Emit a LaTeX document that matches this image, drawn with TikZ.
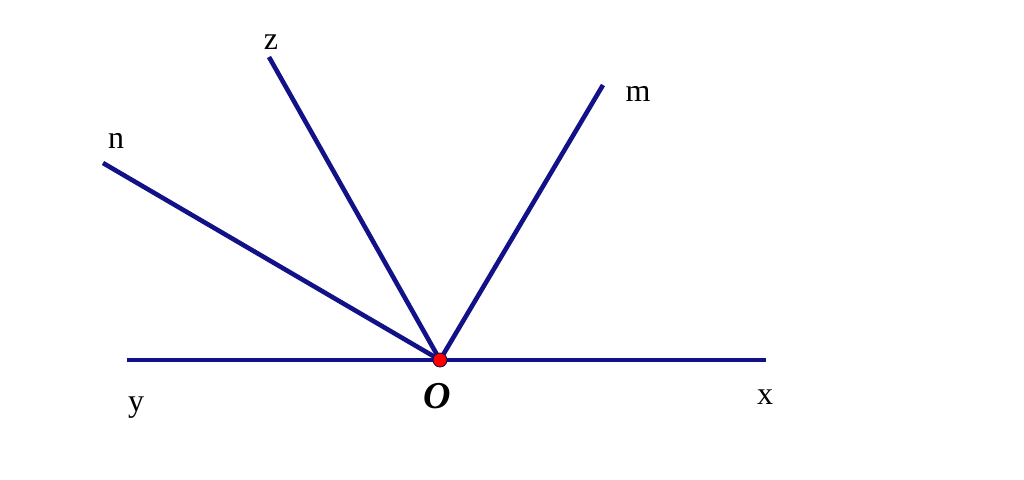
\documentclass[tikz,border=0pt]{standalone}
\usepackage{fontspec}
\setmainfont{Liberation Serif}
\usetikzlibrary{calc}
\definecolor{raynavy}{HTML}{121288}

\begin{document}
\begin{tikzpicture}[x=0.5pt,y=-0.5pt,
    ray/.style={line width=2.3pt, raynavy},
    lbl/.style={font=\fontsize{16}{18}\selectfont, inner sep=0pt}]
    \useasboundingbox (0,0) rectangle (1024,479);

    % Vertex and ray ends
    \coordinate (O) at (440,360);
    \coordinate (X) at (766,360);
    \coordinate (Y) at (127,360);
    \coordinate (Z) at (269,57);
    \coordinate (M) at (603,85);
    \coordinate (N) at (103,163);

    % Straight angle xOy
    \draw[ray] (Y) -- (X);

    % Rays from O
    \draw[ray] (O) -- (N);
    \draw[ray] (O) -- (Z);
    \draw[ray] (O) -- (M);

    % Point O
    \fill[red, draw=raynavy!60!black, line width=0.4pt] (O) circle (3.5pt);

    % Labels
    \node[lbl] (lz) at (271,42) {z};
    \node[lbl] (ln) at (116,141) {n};
    \node[lbl] (lm) at (638,94) {m};
    \node[lbl] (ly) at (136,408) {y};
    \node[lbl] (lx) at (765,397) {x};
    \node[font=\fontsize{19}{22}\selectfont\bfseries\itshape, inner sep=0pt] (lO) at (437,396) {O};
\end{tikzpicture}
\end{document}
